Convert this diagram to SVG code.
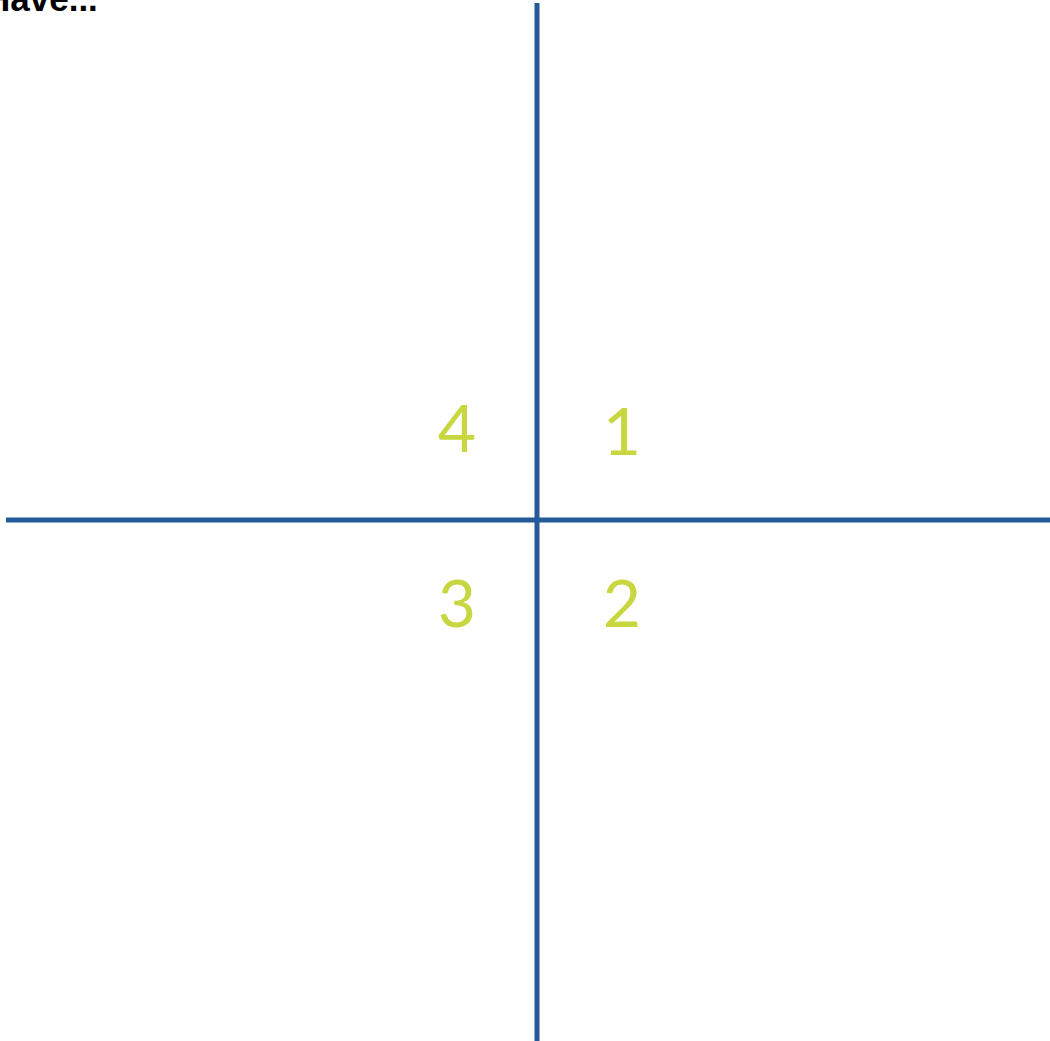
<svg xmlns="http://www.w3.org/2000/svg" width="1050" height="1041" viewBox="0 0 1050 1041">
<style>
.axis{stroke:#255A99;stroke-width:5;fill:none}
.num{font-family:"Lato","Liberation Sans",sans-serif;font-size:66px;fill:#C8D640;text-anchor:middle}
.title{font-family:"Liberation Sans",sans-serif;font-weight:bold;font-size:35px;fill:#000}
</style>
<rect width="1050" height="1041" fill="#fff"/>
<text class="title" x="-15" y="10.5">Have...</text>
<g id="connectors">
<line class="axis" x1="6" y1="520" x2="1050" y2="520"/>
<line class="axis" x1="537" y1="3" x2="537" y2="1041"/>
</g>
<g id="q4"><text class="num" x="457" y="452">4</text></g>
<g id="q1"><text class="num" x="622" y="455">1</text></g>
<g id="q3"><text class="num" x="457" y="627">3</text></g>
<g id="q2"><text class="num" x="622" y="627">2</text></g>
</svg>
